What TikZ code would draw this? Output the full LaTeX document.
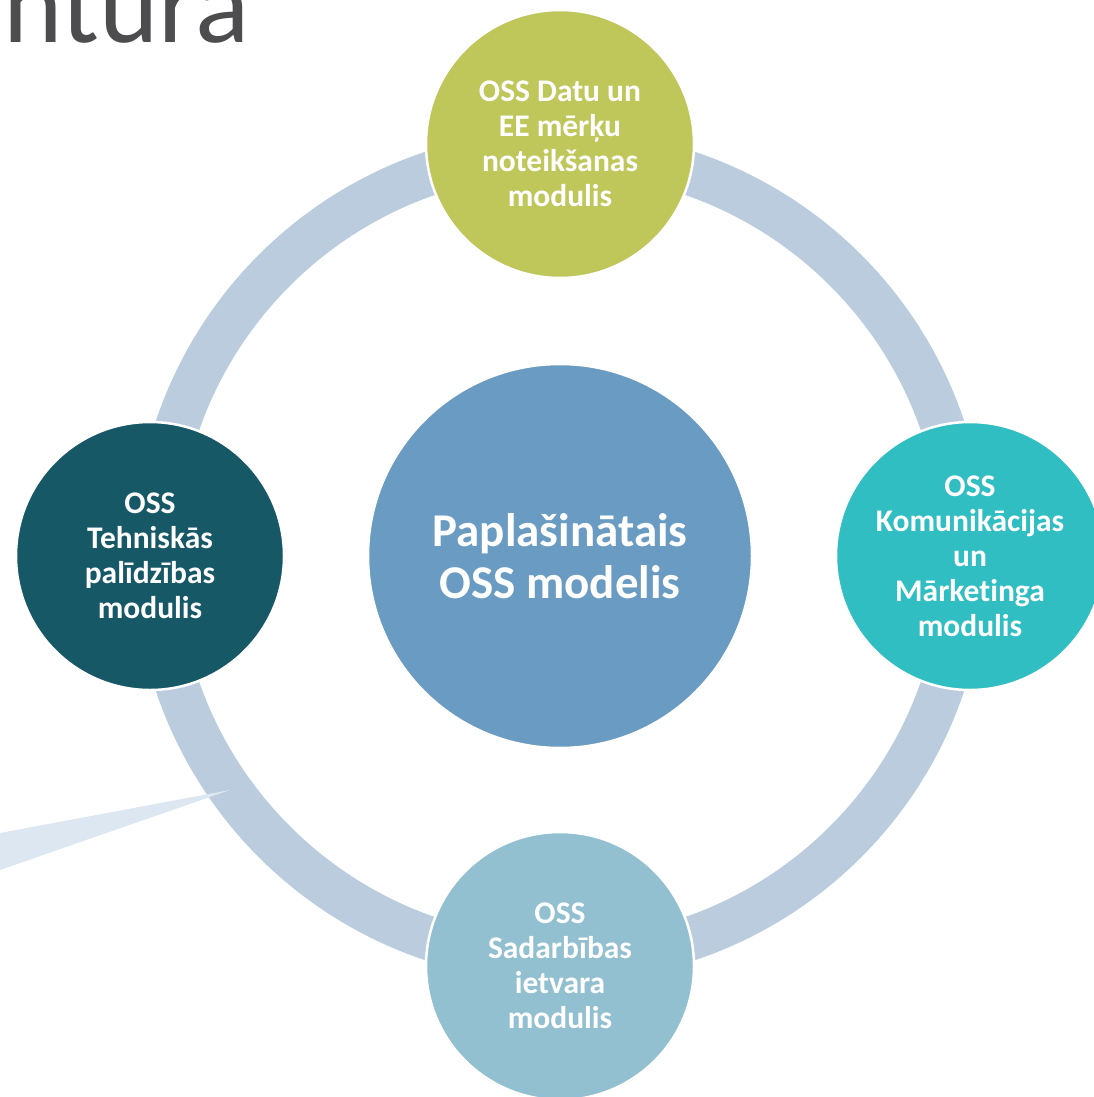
\documentclass[tikz,border=0pt]{standalone}
\usepackage{fontspec}
\setmainfont[RawFeature={-liga}]{Carlito}
\definecolor{ringc}{RGB}{187,204,222}
\definecolor{wedgec}{RGB}{221,231,241}
\definecolor{topc}{RGB}{191,199,91}
\definecolor{leftc}{RGB}{23,88,102}
\definecolor{rightc}{RGB}{49,190,195}
\definecolor{botc}{RGB}{146,192,208}
\definecolor{midc}{RGB}{106,155,195}
\definecolor{titlec}{RGB}{77,77,79}
\begin{document}
\begin{tikzpicture}[x=1pt,y=-1pt,
  module/.style={circle,draw=white,line width=2.5pt,minimum size=268pt,inner sep=0pt,
    text=white,align=center,font=\bfseries\fontsize{31.5}{35}\selectfont},
  hub/.style={circle,draw=white,line width=2.5pt,minimum size=384pt,inner sep=0pt,
    text=white,align=center,font=\bfseries\fontsize{47}{52}\selectfont}]
\useasboundingbox (0,0) rectangle (1094,1097);
\clip (0,0) rectangle (1094,1097);
\node[anchor=base west,inner sep=0pt,text=titlec,font=\fontsize{113}{118}\selectfont] (title) at (3,43) {ntura};
\coordinate (rc) at (560,556);
\draw[ringc,line width=44pt] (rc) circle (404);
\coordinate (w1) at (0,833);
\coordinate (w2) at (0,870);
\coordinate (wt) at (230,790);
\fill[wedgec] (w1) -- (wt) -- (w2) -- cycle;
\node[hub,fill=midc] (hub) at (560,556) {Paplašinātais\\OSS modelis};
\node[module,fill=topc] (top) at (560,144) {OSS Datu un\\EE mērķu\\noteikšanas\\modulis};
\node[module,fill=leftc] (left) at (150,556) {OSS\\Tehniskās\\palīdzības\\modulis};
\node[module,fill=rightc] (right) at (970,556) {OSS\\Komunikācijas\\un\\Mārketinga\\modulis};
\node[module,fill=botc] (bot) at (560,966) {OSS\\Sadarbības\\ietvara\\modulis};
\end{tikzpicture}
\end{document}
